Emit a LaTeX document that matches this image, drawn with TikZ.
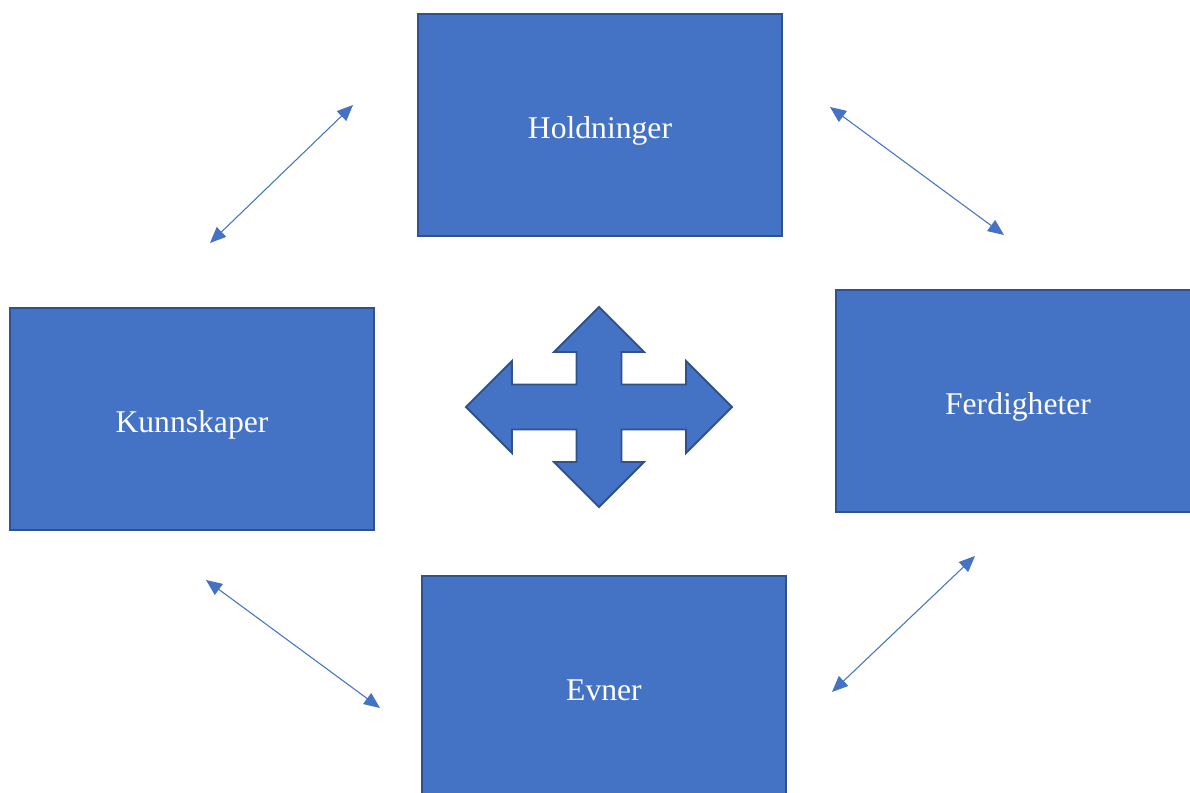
\documentclass[tikz,border=0pt]{standalone}
\usepackage{fontspec}
\setmainfont{Liberation Serif}
\usetikzlibrary{arrows.meta,positioning}
\definecolor{boksblaa}{HTML}{4472C4}
\definecolor{kantblaa}{HTML}{2F528F}
\tikzset{
    %Define standard arrow tip
    >={Triangle[length=3.2mm,width=2.7mm]},
    % Define box style
    boks/.style={
           draw=kantblaa,
           line width=1.1pt,
           fill=boksblaa,
           minimum width=7.28cm,
           minimum height=4.44cm,
           text=white,
           text height=15pt,
           text depth=0pt,
           font=\fontsize{18}{22}\selectfont,
           },
    % Define arrow style
    pil/.style={
           <->,
           boksblaa,
           line width=0.6pt,
           },
}

\begin{document}
\begin{tikzpicture}
  	\useasboundingbox (0,0) rectangle (23.8,-15.86);
  	\clip (0,0) rectangle (23.8,-15.86);
  	\node[boks] (hold) at (12.0,-2.5) {Holdninger};
  	\node[boks] (kunn) at (3.84,-8.38) {Kunnskaper};
  	\node[boks] (ferd) at (20.36,-8.02) {Ferdigheter};
  	\node[boks] (evne) at (12.08,-13.74) {Evner};
  	\coordinate (kryss) at (11.98,-8.14);
  	\draw[draw=kantblaa,line width=1.1pt,fill=boksblaa,shift={(kryss)}]
  		(0,2) -- (0.9,1.1) -- (0.45,1.1) -- (0.45,0.45) -- (1.74,0.45) -- (1.74,0.92)
  		-- (2.66,0) -- (1.74,-0.92) -- (1.74,-0.45) -- (0.45,-0.45) -- (0.45,-1.1)
  		-- (0.9,-1.1) -- (0,-2) -- (-0.9,-1.1) -- (-0.45,-1.1) -- (-0.45,-0.45)
  		-- (-1.74,-0.45) -- (-1.74,-0.92) -- (-2.66,0) -- (-1.74,0.92) -- (-1.74,0.45)
  		-- (-0.45,0.45) -- (-0.45,1.1) -- (-0.9,1.1) -- cycle;
  	\coordinate (a) at (4.20,-4.86);
  	\coordinate (b) at (7.06,-2.10);
  	\coordinate (c) at (16.60,-2.14);
  	\coordinate (d) at (20.08,-4.70);
  	\coordinate (e) at (4.12,-11.60);
  	\coordinate (f) at (7.60,-14.16);
  	\coordinate (g) at (16.64,-13.84);
  	\coordinate (h) at (19.50,-11.12);
  	\draw [pil] (a) -- (b);
  	\draw [pil] (c) -- (d);
  	\draw [pil] (e) -- (f);
  	\draw [pil] (g) -- (h);
\end{tikzpicture}
\end{document}
